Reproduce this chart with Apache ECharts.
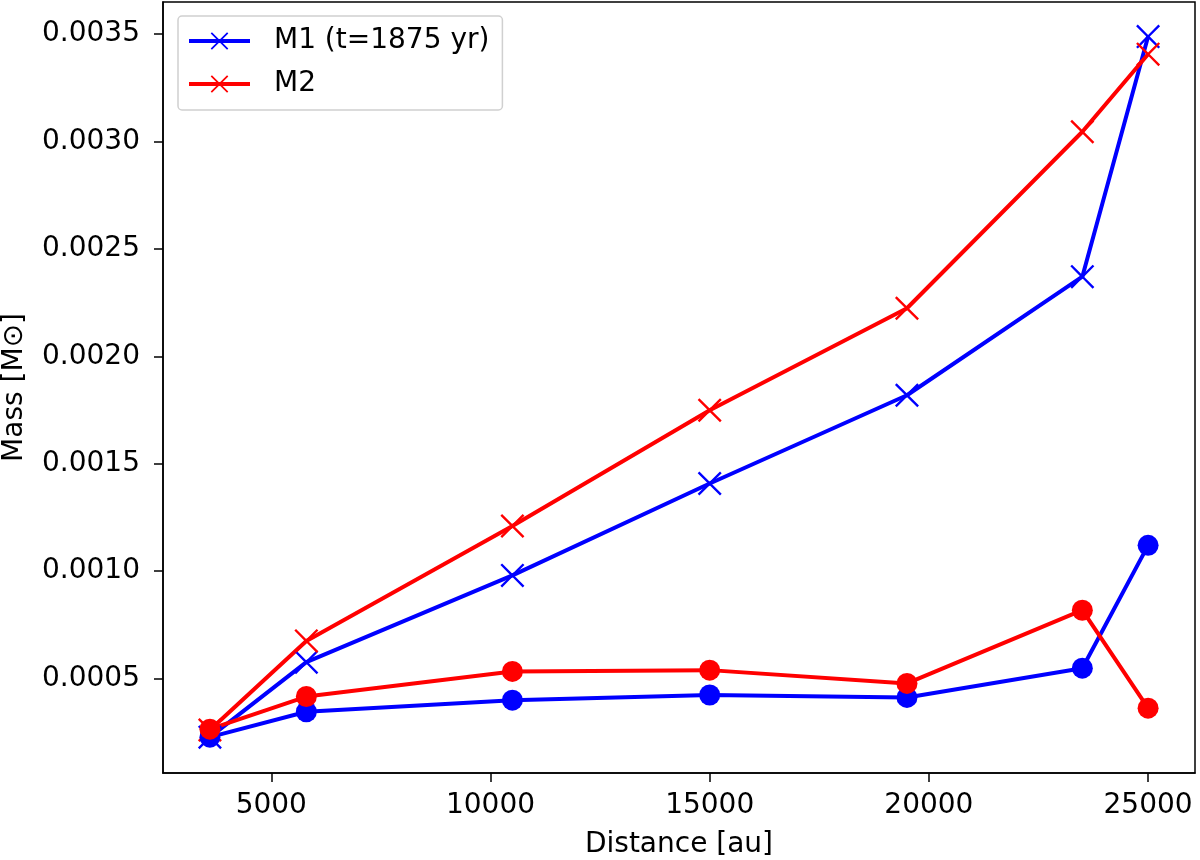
<!DOCTYPE html>
<html>
<head>
<meta charset="utf-8">
<script src="https://cdn.jsdelivr.net/npm/echarts@6/dist/echarts.min.js"></script>
<style>
    html, body { margin: 0; padding: 0; background: #fff; }
    #chart { width: 1200px; height: 860px; }
</style>
</head>
<body>
<div id="chart"></div>
<script>
    // distances in au
    var distance = [3600, 5800, 10500, 15000, 19500, 23500, 25000];
    // masses in solar masses
    var m1Cross = [0.000227, 0.000576, 0.00098, 0.001408, 0.001819, 0.002371, 0.003489];
    var m2Cross = [0.00026, 0.000675, 0.00121, 0.001749, 0.002224, 0.003046, 0.003407];
    var m1Dot = [0.000227, 0.000345, 0.000399, 0.000423, 0.000412, 0.000548, 0.00112];
    var m2Dot = [0.000264, 0.000416, 0.000533, 0.000539, 0.000477, 0.000818, 0.000362];

    var seriesNames = ['M1 (t=1875 yr)', 'M2'];

    var BLUE = '#0000ff';
    var RED = '#ff0000';
    var FONT = 'DejaVu Sans';
    var FS = 28;
    var CROSS = 'path://M0,0.7L0.7,0L5,4.3L9.3,0L10,0.7L5.7,5L10,9.3L9.3,10L5,5.7L0.7,10L0,9.3L4.3,5Z';

    function pairs(ys) {
        return distance.map(function (x, i) { return [x, ys[i]]; });
    }

    function lineSeries(name, ys, color, symbol, size) {
        return {
            name: name,
            type: 'line',
            data: pairs(ys),
            symbol: symbol,
            symbolSize: size,
            showAllSymbol: true,
            animation: false,
            lineStyle: { color: color, width: 4 },
            itemStyle: { color: color, opacity: 1 },
            emphasis: { disabled: true }
        };
    }

    var chart = echarts.init(document.getElementById('chart'));

    var option = {
        backgroundColor: '#ffffff',
        animation: false,
        textStyle: { fontFamily: FONT },
        grid: {
            left: 163, right: 5, top: 2, bottom: 87,
            outerBoundsMode: 'none',
            containLabel: false,
            show: true, borderColor: '#000', borderWidth: 1.5,
            backgroundColor: 'transparent'
        },
        legend: {
            orient: 'vertical',
            left: 178, top: 16,
            data: seriesNames,
            itemWidth: 61, itemHeight: 22, itemGap: 15,
            padding: [11, 13, 12, 9],
            backgroundColor: '#fff',
            borderColor: '#d0d0d0', borderWidth: 1.5, borderRadius: 4,
            lineStyle: { width: 4 },
            textStyle: { fontFamily: FONT, fontSize: FS, color: '#000', padding: [0, 0, 0, 19] }
        },
        xAxis: {
            type: 'value',
            min: 2530, max: 26070,
            splitNumber: 5,
            name: 'Distance [au]',
            nameLocation: 'middle', nameGap: 58,
            nameTextStyle: { fontFamily: FONT, fontSize: FS, color: '#000' },
            axisLine: { show: true, lineStyle: { color: '#000', width: 1.5 } },
            axisTick: { show: true, inside: false, length: 9, lineStyle: { color: '#000', width: 1.5 } },
            axisLabel: {
                fontFamily: FONT, fontSize: FS, color: '#000', margin: 19,
                showMinLabel: false, showMaxLabel: false,
                formatter: function (v) { return String(v); }
            },
            splitLine: { show: false }
        },
        yAxis: {
            type: 'value',
            min: 0.00006, max: 0.00365,
            splitNumber: 7,
            name: 'Mass [M⊙]',
            nameLocation: 'middle', nameGap: 134,
            nameTextStyle: { fontFamily: FONT, fontSize: FS, color: '#000' },
            axisLine: { show: true, lineStyle: { color: '#000', width: 1.5 } },
            axisTick: { show: true, inside: false, length: 9, lineStyle: { color: '#000', width: 1.5 } },
            axisLabel: {
                fontFamily: FONT, fontSize: FS, color: '#000', margin: 23,
                showMinLabel: false, showMaxLabel: false,
                formatter: function (v) { return v.toFixed(4); }
            },
            splitLine: { show: false }
        },
        series: [
            lineSeries(seriesNames[0], m1Cross, BLUE, CROSS, 24),
            lineSeries(seriesNames[1], m2Cross, RED, CROSS, 24),
            lineSeries('M1 dots', m1Dot, BLUE, 'circle', 21),
            lineSeries('M2 dots', m2Dot, RED, 'circle', 21)
        ]
    };

    chart.setOption(option);
</script>
</body>
</html>
